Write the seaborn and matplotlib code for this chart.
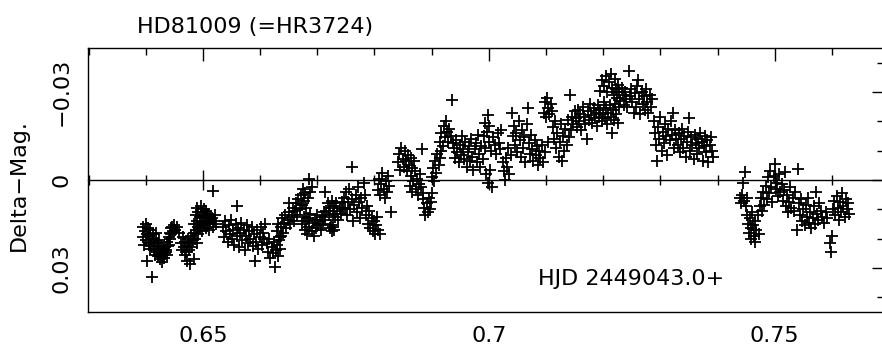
import matplotlib
matplotlib.use("Agg")
import matplotlib.pyplot as plt
from matplotlib.ticker import MultipleLocator
import pandas as pd
import seaborn as sns

# ---- text / ticks ----
title = "HD81009 (=HR3724)"
hjd_note = "HJD 2449043.0+"
y_label = "Delta\u2212Mag."
x_ticks = [0.65, 0.70, 0.75]
x_tick_labels = ["0.65", "0.7", "0.75"]
y_ticks = [-0.03, 0.0, 0.03]
y_tick_labels = ["\u22120.03", "0", "0.03"]

# ---- data: (HJD fraction, delta-mag) ----
obs_0639_0653 = [
    (0.6395, 0.0160), (0.6396, 0.0195), (0.6397, 0.0220), (0.6398, 0.0175), (0.6400, 0.0150),
    (0.6401, 0.0205), (0.6402, 0.0185), (0.6403, 0.0275), (0.6404, 0.0165), (0.6405, 0.0215),
    (0.6406, 0.0190), (0.6407, 0.0235), (0.6408, 0.0170), (0.6409, 0.0200), (0.6410, 0.0225),
    (0.6411, 0.0330), (0.6412, 0.0210), (0.6413, 0.0185), (0.6414, 0.0240), (0.6415, 0.0200),
    (0.6416, 0.0255), (0.6417, 0.0225), (0.6418, 0.0180), (0.6419, 0.0245), (0.6420, 0.0215),
    (0.6421, 0.0260), (0.6422, 0.0235), (0.6423, 0.0205), (0.6424, 0.0250), (0.6425, 0.0270),
    (0.6426, 0.0225), (0.6427, 0.0245), (0.6428, 0.0280), (0.6429, 0.0260), (0.6430, 0.0235),
    (0.6431, 0.0255), (0.6432, 0.0265), (0.6433, 0.0250), (0.6434, 0.0230), (0.6435, 0.0245),
    (0.6436, 0.0240), (0.6437, 0.0210), (0.6438, 0.0255), (0.6439, 0.0225), (0.6440, 0.0195),
    (0.6441, 0.0220), (0.6442, 0.0180), (0.6443, 0.0200), (0.6444, 0.0165), (0.6445, 0.0185),
    (0.6446, 0.0160), (0.6448, 0.0175), (0.6450, 0.0155), (0.6452, 0.0170), (0.6455, 0.0160),
    (0.6458, 0.0180), (0.6462, 0.0215), (0.6464, 0.0240), (0.6465, 0.0195), (0.6467, 0.0230),
    (0.6468, 0.0255), (0.6469, 0.0210), (0.6471, 0.0245), (0.6472, 0.0275), (0.6473, 0.0225),
    (0.6474, 0.0200), (0.6476, 0.0240), (0.6477, 0.0285), (0.6478, 0.0215), (0.6479, 0.0190),
    (0.6481, 0.0230), (0.6482, 0.0205), (0.6484, 0.0180), (0.6485, 0.0270), (0.6486, 0.0200),
    (0.6488, 0.0170), (0.6489, 0.0215), (0.6491, 0.0185), (0.6492, 0.0160),
    (0.6485, 0.0150), (0.6487, 0.0120), (0.6489, 0.0095), (0.6490, 0.0140), (0.6492, 0.0110),
    (0.6494, 0.0165), (0.6495, 0.0125), (0.6496, 0.0090), (0.6497, 0.0145), (0.6498, 0.0110),
    (0.6499, 0.0175), (0.6500, 0.0130), (0.6501, 0.0100), (0.6502, 0.0155), (0.6503, 0.0120),
    (0.6504, 0.0140), (0.6505, 0.0105), (0.6506, 0.0165), (0.6507, 0.0125), (0.6508, 0.0150),
    (0.6509, 0.0115), (0.6510, 0.0135), (0.6511, 0.0170), (0.6512, 0.0125), (0.6513, 0.0145),
    (0.6515, 0.0130), (0.6517, 0.0160), (0.6519, 0.0140), (0.6521, 0.0120), (0.6523, 0.0150),
    (0.6518, 0.0036), (0.6560, 0.0088),
]

obs_0653_0670 = [
    (0.6535, 0.0160), (0.6537, 0.0195), (0.6539, 0.0140), (0.6541, 0.0175), (0.6543, 0.0210),
    (0.6545, 0.0155), (0.6547, 0.0185), (0.6549, 0.0135), (0.6551, 0.0200), (0.6553, 0.0170),
    (0.6555, 0.0220), (0.6557, 0.0150), (0.6559, 0.0190), (0.6561, 0.0165), (0.6563, 0.0230),
    (0.6565, 0.0180), (0.6567, 0.0145), (0.6569, 0.0205), (0.6571, 0.0170), (0.6573, 0.0240),
    (0.6575, 0.0190), (0.6577, 0.0155), (0.6579, 0.0215), (0.6581, 0.0175), (0.6583, 0.0200),
    (0.6585, 0.0160), (0.6587, 0.0225), (0.6589, 0.0185), (0.6591, 0.0276), (0.6593, 0.0210),
    (0.6595, 0.0170), (0.6597, 0.0235), (0.6599, 0.0195), (0.6601, 0.0160), (0.6603, 0.0220),
    (0.6605, 0.0180), (0.6607, 0.0200), (0.6609, 0.0150),
    (0.6612, 0.0215), (0.6614, 0.0245), (0.6616, 0.0200), (0.6618, 0.0265), (0.6620, 0.0230),
    (0.6622, 0.0250), (0.6624, 0.0210), (0.6626, 0.0295), (0.6627, 0.0240), (0.6629, 0.0220),
    (0.6631, 0.0260), (0.6633, 0.0205), (0.6635, 0.0235), (0.6637, 0.0190),
    (0.6630, 0.0175), (0.6632, 0.0150), (0.6634, 0.0195), (0.6636, 0.0160), (0.6638, 0.0130),
    (0.6640, 0.0180), (0.6642, 0.0145), (0.6644, 0.0120), (0.6646, 0.0165), (0.6648, 0.0135),
    (0.6650, 0.0110), (0.6652, 0.0150),
    (0.6650, 0.0077), (0.6655, 0.0125), (0.6657, 0.0095), (0.6659, 0.0140), (0.6661, 0.0105),
    (0.6663, 0.0080), (0.6665, 0.0120), (0.6667, 0.0065), (0.6669, 0.0100), (0.6671, 0.0050),
    (0.6673, 0.0085), (0.6675, 0.0030), (0.6677, 0.0070), (0.6679, 0.0045), (0.6681, 0.0095),
    (0.6683, 0.0060), (0.6685, -0.0005), (0.6688, 0.0040), (0.6690, 0.0025),
]

obs_0667_0683 = [
    (0.6673, 0.0150), (0.6676, 0.0125), (0.6678, 0.0170), (0.6680, 0.0140), (0.6682, 0.0185),
    (0.6684, 0.0130), (0.6686, 0.0160), (0.6688, 0.0115), (0.6690, 0.0175), (0.6692, 0.0145),
    (0.6694, 0.0190), (0.6696, 0.0135), (0.6698, 0.0165), (0.6700, 0.0120), (0.6702, 0.0155),
    (0.6704, 0.0140), (0.6706, 0.0170), (0.6708, 0.0125), (0.6710, 0.0150), (0.6712, 0.0110),
    (0.6714, 0.0135), (0.6722, 0.0165), (0.6724, 0.0155), (0.6726, 0.0175), (0.6728, 0.0160),
    (0.6730, 0.0170), (0.6714, 0.0040),
    (0.6716, 0.0105), (0.6718, 0.0080), (0.6720, 0.0120), (0.6723, 0.0095), (0.6725, 0.0070),
    (0.6727, 0.0115), (0.6729, 0.0090), (0.6731, 0.0125), (0.6733, 0.0080), (0.6735, 0.0105),
    (0.6737, 0.0135), (0.6739, 0.0095), (0.6741, 0.0115), (0.6743, 0.0075), (0.6745, 0.0100),
    (0.6746, 0.0060), (0.6748, 0.0095), (0.6750, 0.0040), (0.6752, 0.0120), (0.6754, 0.0075),
    (0.6756, 0.0030), (0.6758, 0.0100), (0.6760, -0.0043), (0.6761, 0.0065), (0.6763, 0.0140),
    (0.6765, 0.0085), (0.6767, 0.0050), (0.6769, 0.0110), (0.6771, 0.0025), (0.6773, 0.0075),
    (0.6775, 0.0130), (0.6777, 0.0060), (0.6779, 0.0095), (0.6781, 0.0010), (0.6783, 0.0050),
    (0.6785, 0.0120), (0.6787, 0.0090), (0.6789, 0.0150), (0.6791, 0.0105), (0.6793, 0.0165),
    (0.6795, 0.0130), (0.6797, 0.0175), (0.6799, 0.0140), (0.6801, 0.0185), (0.6803, 0.0155),
    (0.6805, 0.0125), (0.6807, 0.0170), (0.6810, 0.0183),
    (0.6806, 0.0035), (0.6808, -0.0005), (0.6810, 0.0050), (0.6812, 0.0015), (0.6814, -0.0025),
    (0.6816, 0.0030), (0.6818, 0.0060), (0.6820, 0.0005), (0.6822, 0.0040), (0.6824, -0.0015),
    (0.6826, 0.0020), (0.6829, 0.0110),
]

obs_0684_0704 = [
    (0.6841, -0.0060), (0.6843, -0.0090), (0.6845, -0.0035), (0.6847, -0.0110), (0.6849, -0.0070),
    (0.6851, -0.0045), (0.6853, -0.0100), (0.6855, -0.0065), (0.6857, -0.0030), (0.6859, -0.0085),
    (0.6861, -0.0050), (0.6863, -0.0075), (0.6866, -0.0040), (0.6869, -0.0065), (0.6883, -0.0105),
    (0.6862, 0.0020), (0.6864, -0.0015), (0.6866, 0.0040), (0.6868, 0.0005), (0.6870, -0.0030),
    (0.6872, 0.0030), (0.6874, -0.0005), (0.6876, 0.0050), (0.6878, 0.0015), (0.6880, -0.0020),
    (0.6882, 0.0025), (0.6884, 0.0045),
    (0.6885, 0.0065), (0.6887, 0.0095), (0.6889, 0.0120), (0.6891, 0.0080), (0.6893, 0.0110),
    (0.6895, 0.0060), (0.6897, 0.0100), (0.6899, 0.0075), (0.6901, 0.0045),
    (0.6900, -0.0010), (0.6902, -0.0040), (0.6904, 0.0005), (0.6906, -0.0065), (0.6908, -0.0025),
    (0.6910, -0.0090), (0.6912, -0.0050), (0.6914, -0.0075), (0.6916, -0.0100),
    (0.6915, -0.0130), (0.6917, -0.0160), (0.6919, -0.0115), (0.6921, -0.0185), (0.6923, -0.0145),
    (0.6925, -0.0200), (0.6927, -0.0165), (0.6929, -0.0130), (0.6931, -0.0175), (0.6933, -0.0150),
    (0.6935, -0.0274), (0.6937, -0.0125),
    (0.6939, -0.0110), (0.6941, -0.0075), (0.6943, -0.0135), (0.6945, -0.0095), (0.6947, -0.0060),
    (0.6949, -0.0120), (0.6951, -0.0085), (0.6953, -0.0150), (0.6955, -0.0105), (0.6957, -0.0070),
    (0.6959, -0.0130), (0.6961, -0.0045), (0.6963, -0.0095), (0.6965, -0.0115), (0.6967, -0.0065),
    (0.6969, -0.0140), (0.6971, -0.0080), (0.6973, -0.0035), (0.6975, -0.0105), (0.6977, -0.0125),
    (0.6979, -0.0060), (0.6981, -0.0155), (0.6983, -0.0090), (0.6985, -0.0045), (0.6987, -0.0115),
    (0.6989, -0.0070),
    (0.6995, -0.0020), (0.6998, 0.0010), (0.7002, -0.0035), (0.7005, 0.0025),
    (0.6998, -0.0220), (0.6993, -0.0195), (0.7001, -0.0185),
    (0.6991, -0.0150), (0.6994, -0.0110), (0.6996, -0.0165), (0.7000, -0.0130), (0.7004, -0.0100),
    (0.7007, -0.0145), (0.7010, -0.0120), (0.7013, -0.0090), (0.7016, -0.0160), (0.7018, -0.0125),
    (0.7020, -0.0105), (0.7022, -0.0170), (0.7024, -0.0060), (0.7026, -0.0030), (0.7028, 0.0000),
    (0.7030, -0.0075), (0.7032, -0.0045), (0.7034, -0.0110), (0.7036, -0.0020), (0.7038, -0.0085),
    (0.7040, -0.0230),
]

obs_0704_0740 = [
    (0.7042, -0.0150), (0.7044, -0.0185), (0.7046, -0.0120), (0.7048, -0.0160), (0.7050, -0.0095),
    (0.7052, -0.0200), (0.7054, -0.0135), (0.7056, -0.0080), (0.7058, -0.0170), (0.7060, -0.0110),
    (0.7062, -0.0145), (0.7064, -0.0060), (0.7066, -0.0190), (0.7068, -0.0245), (0.7070, -0.0125),
    (0.7072, -0.0090), (0.7074, -0.0155), (0.7076, -0.0105), (0.7078, -0.0065), (0.7080, -0.0135),
    (0.7082, -0.0085), (0.7084, -0.0115), (0.7086, -0.0050), (0.7088, -0.0100),
    (0.7096, -0.0230), (0.7098, -0.0265), (0.7100, -0.0215), (0.7102, -0.0280), (0.7104, -0.0245),
    (0.7106, -0.0225), (0.7108, -0.0260), (0.7110, -0.0235),
    (0.7090, -0.0075), (0.7093, -0.0120), (0.7095, -0.0060), (0.7099, -0.0095), (0.7103, -0.0130),
    (0.7112, -0.0180), (0.7114, -0.0140), (0.7116, -0.0200), (0.7118, -0.0110), (0.7120, -0.0160),
    (0.7122, -0.0080), (0.7124, -0.0130), (0.7126, -0.0190), (0.7128, -0.0065), (0.7130, -0.0150),
    (0.7132, -0.0100), (0.7134, -0.0175), (0.7136, -0.0120), (0.7138, -0.0205), (0.7140, -0.0145),
    (0.7142, -0.0290), (0.7144, -0.0170), (0.7146, -0.0215), (0.7148, -0.0190), (0.7150, -0.0235),
    (0.7152, -0.0210), (0.7154, -0.0180), (0.7156, -0.0240), (0.7158, -0.0200), (0.7160, -0.0225),
    (0.7162, -0.0170), (0.7164, -0.0250), (0.7166, -0.0215), (0.7168, -0.0190), (0.7171, -0.0140),
    (0.7173, -0.0235), (0.7175, -0.0205), (0.7177, -0.0260), (0.7179, -0.0220), (0.7181, -0.0195),
    (0.7183, -0.0245), (0.7185, -0.0210), (0.7187, -0.0230), (0.7189, -0.0185), (0.7191, -0.0255),
    (0.7193, -0.0215), (0.7195, -0.0240), (0.7197, -0.0200), (0.7199, -0.0225), (0.7201, -0.0265),
    (0.7203, -0.0210), (0.7205, -0.0245), (0.7207, -0.0190), (0.7209, -0.0230), (0.7211, -0.0255),
    (0.7213, -0.0215), (0.7215, -0.0160), (0.7217, -0.0240), (0.7219, -0.0205), (0.7221, -0.0260),
    (0.7223, -0.0225), (0.7225, -0.0195), (0.7227, -0.0250),
    (0.7195, -0.0305), (0.7198, -0.0340), (0.7201, -0.0320), (0.7204, -0.0355), (0.7207, -0.0300),
    (0.7210, -0.0335), (0.7213, -0.0360), (0.7216, -0.0315), (0.7218, -0.0290), (0.7220, -0.0345),
    (0.7222, -0.0310), (0.7224, -0.0280), (0.7226, -0.0325), (0.7228, -0.0300), (0.7230, -0.0270),
    (0.7232, -0.0315), (0.7234, -0.0290), (0.7236, -0.0255), (0.7238, -0.0300), (0.7240, -0.0275),
    (0.7242, -0.0250), (0.7245, -0.0370), (0.7247, -0.0285),
    (0.7249, -0.0310), (0.7251, -0.0265), (0.7253, -0.0230), (0.7255, -0.0295), (0.7257, -0.0250),
    (0.7259, -0.0320), (0.7261, -0.0340), (0.7263, -0.0275), (0.7265, -0.0225), (0.7267, -0.0300),
    (0.7269, -0.0260), (0.7271, -0.0285), (0.7273, -0.0240), (0.7275, -0.0310), (0.7277, -0.0265),
    (0.7279, -0.0230), (0.7281, -0.0290), (0.7283, -0.0250), (0.7285, -0.0275),
    (0.7288, -0.0200), (0.7290, -0.0160), (0.7292, -0.0120), (0.7294, -0.0065), (0.7296, -0.0180),
    (0.7298, -0.0140), (0.7300, -0.0215), (0.7302, -0.0100), (0.7304, -0.0165), (0.7306, -0.0125),
    (0.7308, -0.0190), (0.7310, -0.0150), (0.7312, -0.0085), (0.7314, -0.0175), (0.7316, -0.0135),
    (0.7318, -0.0200), (0.7320, -0.0155), (0.7322, -0.0230), (0.7324, -0.0110), (0.7326, -0.0170),
    (0.7328, -0.0140),
    (0.7330, -0.0120), (0.7332, -0.0160), (0.7334, -0.0095), (0.7336, -0.0140), (0.7338, -0.0175),
    (0.7340, -0.0110), (0.7342, -0.0150), (0.7344, -0.0080), (0.7346, -0.0130), (0.7348, -0.0165),
    (0.7350, -0.0210), (0.7352, -0.0100), (0.7354, -0.0145), (0.7356, -0.0120), (0.7358, -0.0070),
    (0.7360, -0.0155), (0.7362, -0.0125), (0.7364, -0.0090), (0.7366, -0.0140), (0.7368, -0.0110),
    (0.7370, -0.0160), (0.7372, -0.0130), (0.7374, -0.0065), (0.7376, -0.0115), (0.7378, -0.0150),
    (0.7380, -0.0095), (0.7382, -0.0135), (0.7384, -0.0060), (0.7386, -0.0120), (0.7388, -0.0145),
    (0.7390, -0.0100), (0.7392, -0.0080),
]

obs_0744_0764 = [
    (0.7439, 0.0060), (0.7441, 0.0080), (0.7443, 0.0050), (0.7445, 0.0010), (0.7446, 0.0070),
    (0.7448, -0.0026), (0.7449, 0.0090), (0.7451, 0.0120), (0.7452, 0.0060), (0.7453, 0.0150),
    (0.7455, 0.0180), (0.7456, 0.0130), (0.7458, 0.0200), (0.7459, 0.0165), (0.7460, 0.0110),
    (0.7462, 0.0155), (0.7463, 0.0190), (0.7465, 0.0140), (0.7466, 0.0210), (0.7468, 0.0170),
    (0.7470, 0.0120), (0.7472, 0.0185), (0.7474, 0.0090), (0.7476, 0.0060), (0.7478, 0.0105),
    (0.7480, 0.0040), (0.7482, 0.0085), (0.7484, 0.0020), (0.7486, 0.0065), (0.7488, -0.0010),
    (0.7490, 0.0045), (0.7492, -0.0030), (0.7494, 0.0025), (0.7496, 0.0075), (0.7498, -0.0015),
    (0.7500, -0.0053), (0.7502, 0.0030), (0.7504, 0.0010), (0.7506, 0.0055), (0.7508, -0.0020),
    (0.7510, 0.0040), (0.7512, 0.0015), (0.7514, 0.0070), (0.7516, 0.0035), (0.7517, -0.0026),
    (0.7519, 0.0090), (0.7521, 0.0050), (0.7523, 0.0110), (0.7525, 0.0075), (0.7527, 0.0025),
    (0.7529, 0.0095), (0.7531, 0.0060), (0.7533, 0.0105), (0.7535, 0.0040), (0.7538, 0.0170),
    (0.7540, -0.0036), (0.7542, 0.0080), (0.7544, 0.0120), (0.7546, 0.0065), (0.7548, 0.0140),
    (0.7550, 0.0100), (0.7552, 0.0155), (0.7554, 0.0085), (0.7556, 0.0125), (0.7558, 0.0060),
    (0.7560, 0.0145), (0.7562, 0.0110), (0.7564, 0.0165), (0.7566, 0.0130), (0.7568, 0.0090),
    (0.7570, 0.0150), (0.7572, 0.0040), (0.7574, 0.0115), (0.7576, 0.0135), (0.7578, 0.0080),
    (0.7580, 0.0105), (0.7583, 0.0125), (0.7586, 0.0145), (0.7589, 0.0110), (0.7592, 0.0130),
    (0.7596, 0.0215), (0.7598, 0.0245), (0.7600, 0.0190), (0.7602, 0.0100), (0.7604, 0.0070),
    (0.7606, 0.0120), (0.7608, 0.0055), (0.7610, 0.0095), (0.7612, 0.0135), (0.7614, 0.0075),
    (0.7616, 0.0110), (0.7618, 0.0045), (0.7620, 0.0090), (0.7622, 0.0125), (0.7624, 0.0065),
    (0.7626, 0.0100), (0.7628, 0.0080), (0.7630, 0.0115),
]

segments = [obs_0639_0653, obs_0653_0670, obs_0667_0683,
            obs_0684_0704, obs_0704_0740, obs_0744_0764]
df = pd.DataFrame([p for seg in segments for p in seg], columns=["hjd", "dmag"])

# ---- style ----
sns.set_theme(style="white", rc={
    "text.color": "black", "axes.labelcolor": "black",
    "xtick.color": "black", "ytick.color": "black",
    "axes.edgecolor": "black",
})
plt.rcParams["font.family"] = ["DejaVu Sans"]
plt.rcParams["axes.unicode_minus"] = True

W, H = 882, 347
fig = plt.figure(figsize=(W / 100, H / 100), dpi=100)
ax = fig.add_axes([88 / W, 1 - 312 / H, 796 / W, 264 / H])

sns.scatterplot(data=df, x="hjd", y="dmag", marker="+", s=75, color="black",
                linewidth=1.3, ax=ax, legend=False, zorder=3)

ax.set_xlim(0.6299, 0.7691)
ax.set_ylim(0.045, -0.045)

ax.set_xticks(x_ticks)
ax.set_xticklabels(x_tick_labels, fontsize=16, color="black")
ax.set_yticks(y_ticks)
ax.set_yticklabels(y_tick_labels, fontsize=16, rotation=90, va="center", color="black")
ax.xaxis.set_minor_locator(MultipleLocator(0.01))
ax.yaxis.set_minor_locator(MultipleLocator(0.01))
ax.tick_params(which="both", direction="in", top=True, right=True,
               color="black", width=1.0)
ax.tick_params(which="major", length=9)
ax.tick_params(which="minor", length=5)
ax.tick_params(axis="x", which="major", pad=10)
ax.tick_params(axis="y", which="major", pad=12)
ax.set_xlabel("")
ax.set_ylabel("")
for sp in ax.spines.values():
    sp.set_color("black")
    sp.set_linewidth(1.0)

# zero line with crossing ticks
sec = ax.secondary_xaxis(0.5)
sec.set_xticks(x_ticks)
sec.xaxis.set_minor_locator(MultipleLocator(0.01))
sec.tick_params(which="both", direction="inout", labeltop=False, labelbottom=False,
                color="black", width=1.0)
sec.tick_params(which="major", length=15)
sec.tick_params(which="minor", length=7)
for sp in sec.spines.values():
    sp.set_color("black")
    sp.set_linewidth(1.0)

fig.text(137 / W, 1 - 33 / H, title, fontsize=16, ha="left", va="baseline", color="black")
fig.text(19 / W, 1 - 185 / H, y_label, fontsize=16, rotation=90, ha="center",
         va="center", color="black")
ax.text(0.565, 0.125, hjd_note, transform=ax.transAxes, fontsize=16,
        ha="left", va="center", color="black")

fig.savefig("out.png", dpi=100)
